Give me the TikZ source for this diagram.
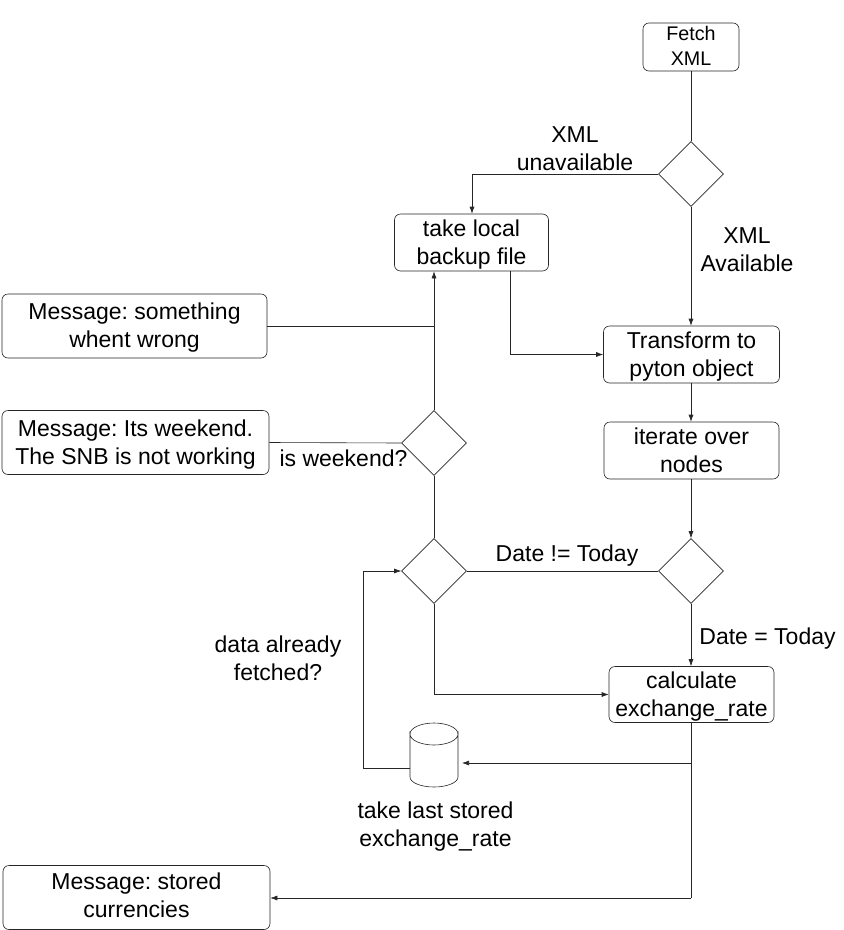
\documentclass[tikz,border=0pt]{standalone}
\usepackage{fontspec}
\setmainfont{Liberation Sans}
\usetikzlibrary{shapes.geometric,arrows.meta}
\newcommand{\boxtext}[2]{\raisebox{#1}[\height][\depth]{\begin{tabular}{@{}c@{}}#2\end{tabular}}}
\begin{document}
\frenchspacing
\begin{tikzpicture}[x=1pt,y=-1pt,
  rbox/.style={draw=black!85,line width=0.6pt,rounded corners=6pt,fill=white,align=center,font=\fontsize{23}{28}\selectfont,inner sep=0pt,minimum height=#1},
  rbox/.default=46pt,
  dia/.style={draw=black!85,line width=0.6pt,diamond,aspect=1,fill=white,minimum width=65pt,minimum height=65pt,inner sep=0pt},
  lab/.style={align=center,font=\fontsize{23}{28}\selectfont,inner sep=0pt},
  conn/.style={draw=black!85,line width=0.6pt},
  arr/.style={conn,-{Latex[length=7pt,width=5pt]}}]
\useasboundingbox (0,0) rectangle (844,930);
\node[rbox=48pt,minimum width=96pt,font=\fontsize{19.7}{25}\selectfont] (fetch) at (691,47) {\raisebox{-6.5pt}[22pt][22pt]{\begin{tabular}{@{}c@{}}Fetch\\XML\end{tabular}}};
\node[dia] (d1) at (691,174) {};
\node[rbox=57pt,minimum width=154pt] (backup) at (471.5,242.5) {\boxtext{-2pt}{take local\\backup file}};
\node[rbox=57pt,minimum width=176pt] (transform) at (691.5,354.5) {\boxtext{-2pt}{Transform to\\pyton object}};
\node[rbox=57pt,minimum width=175pt] (iterate) at (691.5,450.5) {\boxtext{-2pt}{iterate over\\nodes}};
\node[rbox=64pt,minimum width=265pt] (wrong) at (134.5,326) {\boxtext{-2pt}{Message: something\\whent wrong}};
\node[rbox=64pt,minimum width=267pt] (weekend) at (135.5,442.5) {\boxtext{-2pt}{Message: Its weekend.\\The SNB is not working}};
\node[dia] (d2) at (434,443) {};
\node[dia] (d3) at (434,571) {};
\node[dia] (d4) at (691,571) {};
\node[rbox=56pt,minimum width=165pt] (calc) at (691.5,694.5) {\boxtext{-2pt}{calculate\\exchange\_rate}};
\node[rbox=64pt,minimum width=267pt] (stored) at (136.5,897.5) {\boxtext{-0.5pt}{Message: stored\\currencies}};
% cylinder
\draw[draw=black!85,line width=0.6pt,fill=white] (410,734) arc[x radius=24,y radius=11,start angle=180,end angle=0] -- (458,777) arc[x radius=24,y radius=10,start angle=0,end angle=180] -- cycle;
\draw[draw=black!85,line width=0.6pt] (410,734) arc[x radius=24,y radius=11,start angle=180,end angle=360];
\coordinate (jwrong) at (434,326);
\coordinate (jdb) at (691,763);
\coordinate (jstored) at (691,898);
\draw[conn] (fetch.south) -- (d1.north);
\draw[arr] (d1.west) -| (backup.north -| 472,0);
\draw[arr] (d1.south) -- (transform.north -| d1);
\draw[arr] (510,271) |- (transform.west);
\draw[arr] (transform.south -| 691,0) -- (iterate.north -| 691,0);
\draw[arr] (iterate.south -| d4) -- (d4.north);
\draw[arr] (d4.south) -- (calc.north -| d4);
\draw[conn] (d4.west) -- (d3.east);
\draw[arr] (d3.south) |- (calc.west);
\draw[conn] (d3.north) -- (d2.south);
\draw[arr] (d2.north) -- (backup.south -| d2);
\draw[conn] (wrong.east) -- (jwrong);
\draw[conn] (weekend.east) -- (d2.west);
\draw[conn] (calc.south -| jdb) -- (jstored);
\draw[arr] (jdb) -- (462,763);
\draw[arr] (jstored) -- (stored.east |- jstored);
\draw[arr] (410,768) -- (363,768) -- (363,571) -- (d3.west);
\node[lab] (t1) at (575,148.5) {XML\\unavailable};
\node[lab] (t2) at (747,249.5) {XML\\Available};
\node[lab] (t3) at (343.5,458) {is weekend?};
\node[lab] (t4) at (567,555.5) {Date != Today};
\node[lab] (t5) at (767.5,639) {Date = Today};
\node[lab] (t6) at (278,658.5) {data already\\fetched?};
\node[lab] (t7) at (435.5,826.5) {take last stored\\exchange\_rate};
\end{tikzpicture}
\end{document}
